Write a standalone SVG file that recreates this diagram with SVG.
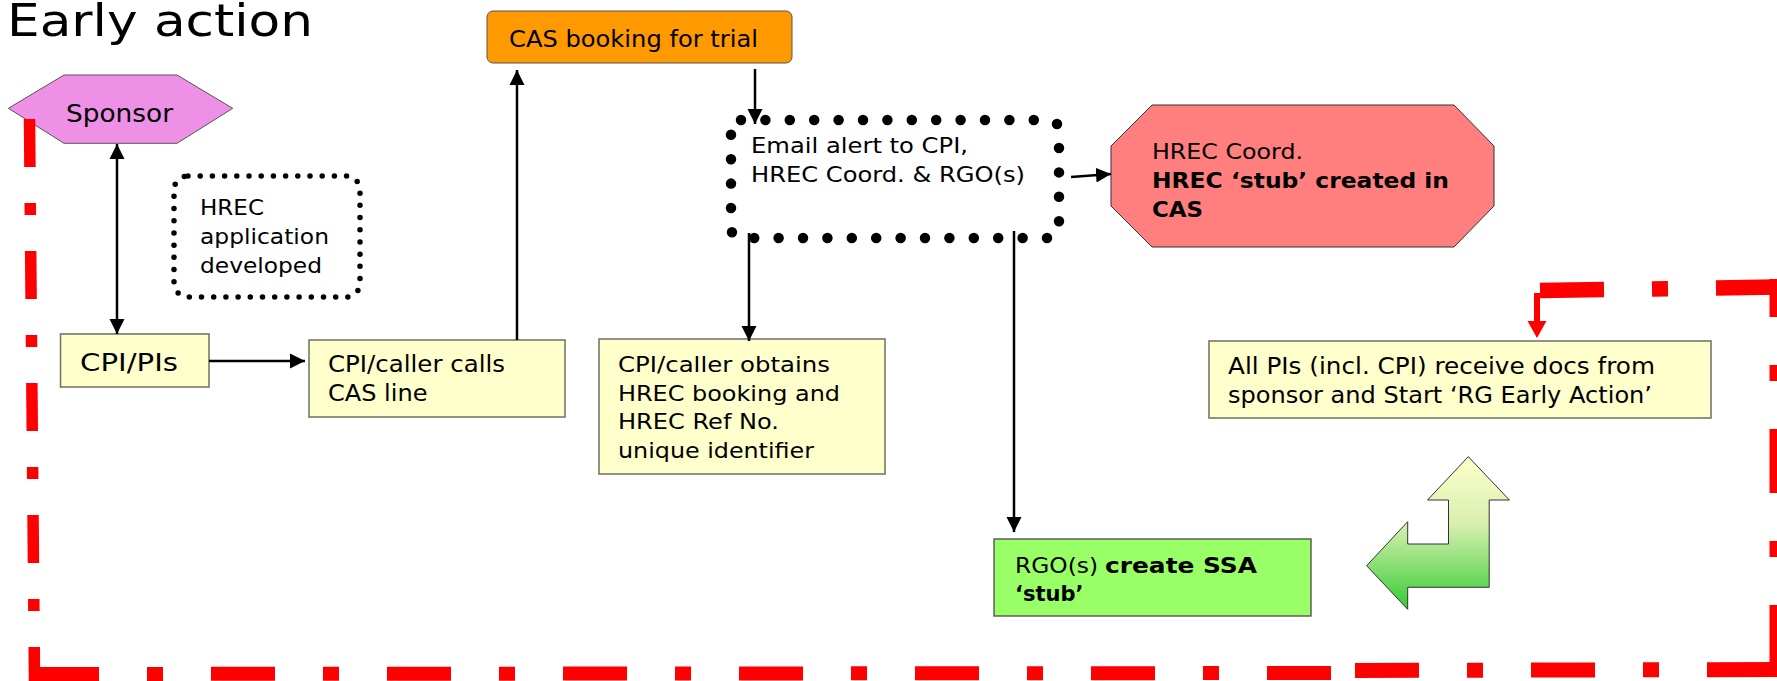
<svg xmlns="http://www.w3.org/2000/svg" width="1777" height="681" viewBox="0 0 1777 681">
<defs>
<style>
text { font-family: "DejaVu Sans", "Liberation Sans", sans-serif; fill: #000; }
.t { font-size: 21.5px; }
.m { font-size: 23px; }
.s { font-size: 21px; }
.b { font-weight: bold; }
.box { fill: #FFFFCC; stroke: #77776a; stroke-width: 1.6; }
.arr { fill: none; stroke: #000; stroke-width: 2.5; marker-end: url(#ah); }
.red { fill: none; stroke: #FF0000; }
.dot { fill: none; stroke: #000; stroke-linecap: round; }
</style>
<marker id="ah" markerUnits="userSpaceOnUse" viewBox="0 0 16 16" markerWidth="16" markerHeight="16" refX="15" refY="8" orient="auto-start-reverse">
<path d="M0,0.5 L15,8 L0,15.5 z" fill="#000"/>
</marker>
<marker id="rh" markerUnits="userSpaceOnUse" viewBox="0 0 18 20" markerWidth="18" markerHeight="20" refX="0" refY="10" orient="auto">
<path d="M0,0.5 L17,10 L0,19.5 z" fill="#FF0000"/>
</marker>
<linearGradient id="gArrow" x1="0" y1="0" x2="0" y2="1">
<stop offset="0" stop-color="#FFFFCC"/>
<stop offset="0.45" stop-color="#D6EFAE"/>
<stop offset="1" stop-color="#33CC33"/>
</linearGradient>
</defs>

<g id="title">
<text x="7" y="36" font-size="45" textLength="306" lengthAdjust="spacingAndGlyphs">Early action</text>
</g>

<g id="sponsor">
<polygon points="8.4,108.3 64,75 177,75 232.7,108.3 177,143.3 64,143.3" fill="#EE90E6" stroke="#555" stroke-width="1"/>
<text x="66" y="122" font-size="25" textLength="107" lengthAdjust="spacingAndGlyphs">Sponsor</text>
</g>

<g id="hrec-application">
<rect x="174" y="176" width="186" height="121" rx="14" class="dot" stroke-width="5.5" stroke-dasharray="0 12.2"/>
<text class="t" x="200" y="215" textLength="64" lengthAdjust="spacingAndGlyphs">HREC</text>
<text class="t" x="200" y="244" textLength="129" lengthAdjust="spacingAndGlyphs">application</text>
<text class="t" x="200" y="273" textLength="122" lengthAdjust="spacingAndGlyphs">developed</text>
</g>

<g id="cas-booking">
<rect x="487" y="11" width="305" height="52" rx="6" fill="#FF9900" stroke="#555" stroke-width="1"/>
<text class="m" x="509" y="47" textLength="249" lengthAdjust="spacingAndGlyphs">CAS booking for trial</text>
</g>

<g id="cpi-pis">
<rect class="box" x="60.5" y="334" width="148.5" height="53"/>
<text x="80" y="371" font-size="25" textLength="98" lengthAdjust="spacingAndGlyphs">CPI/PIs</text>
</g>

<g id="cpi-calls">
<rect class="box" x="309" y="340" width="256" height="77"/>
<text class="m" x="328" y="372" textLength="177" lengthAdjust="spacingAndGlyphs">CPI/caller calls</text>
<text class="m" x="328" y="401" textLength="99.5" lengthAdjust="spacingAndGlyphs">CAS line</text>
</g>

<g id="email-alert">
<rect x="731" y="120" width="328" height="118" rx="10" class="dot" stroke-width="10.5" stroke-dasharray="0 24.4"/>
<text x="751" y="153" font-size="22" textLength="217" lengthAdjust="spacingAndGlyphs">Email alert to CPI,</text>
<text x="751" y="182" font-size="22" textLength="274" lengthAdjust="spacingAndGlyphs">HREC Coord. &amp; RGO(s)</text>
</g>

<g id="hrec-stub">
<polygon points="1152,105 1454,105 1494,146 1494,206 1454,247 1152,247 1111,206 1111,146" fill="#FF7F7F" stroke="#333" stroke-width="1"/>
<text class="s" x="1152" y="159" textLength="151" lengthAdjust="spacingAndGlyphs">HREC Coord.</text>
<text class="s b" x="1152" y="188" textLength="297" lengthAdjust="spacingAndGlyphs">HREC ‘stub’ created in</text>
<text class="s b" x="1152" y="217" textLength="51" lengthAdjust="spacingAndGlyphs">CAS</text>
</g>

<g id="cpi-obtains">
<rect class="box" x="599" y="339" width="286" height="135"/>
<text class="t" x="618" y="372" textLength="212" lengthAdjust="spacingAndGlyphs">CPI/caller obtains</text>
<text class="t" x="618" y="401" textLength="222" lengthAdjust="spacingAndGlyphs">HREC booking and</text>
<text class="t" x="618" y="429" textLength="161" lengthAdjust="spacingAndGlyphs">HREC Ref No.</text>
<text class="t" x="618" y="458" textLength="196" lengthAdjust="spacingAndGlyphs">unique identifier</text>
</g>

<g id="rgo-stub">
<rect x="994" y="539" width="317" height="77" fill="#99FF66" stroke="#555" stroke-width="1.4"/>
<text class="s" x="1015" y="573" textLength="83" lengthAdjust="spacingAndGlyphs">RGO(s)</text>
<text class="s b" x="1105" y="573" textLength="152" lengthAdjust="spacingAndGlyphs">create SSA</text>
<text class="s b" x="1015" y="601">‘stub’</text>
</g>

<g id="all-pis">
<rect class="box" x="1209" y="341" width="502" height="77"/>
<text class="m" x="1228" y="374" textLength="427" lengthAdjust="spacingAndGlyphs">All PIs (incl. CPI) receive docs from</text>
<text class="m" x="1228" y="403" textLength="424" lengthAdjust="spacingAndGlyphs">sponsor and Start ‘RG Early Action’</text>
</g>

<g id="bent-arrow">
<polygon points="1468.3,456.7 1509.4,500 1489.2,500 1489.2,587.3 1407.7,587.3 1407.7,609.3 1366.6,565.7 1407.7,521.7 1407.7,544 1448.5,544 1448.5,500 1427.5,500" fill="url(#gArrow)" stroke="#333" stroke-width="1"/>
</g>

<g id="connectors">
<path class="arr" d="M117,144 L117,334" marker-start="url(#ah)"/>
<path class="arr" d="M209,361 L305,361" stroke-width="4.2"/>
<path class="arr" d="M517,340 L517,70"/>
<path class="arr" d="M755,69 L755,124"/>
<path class="arr" d="M1071,177 L1111,174" stroke-width="3"/>
<path class="arr" d="M749,233 L749,341"/>
<path class="arr" d="M1014,231 L1014,532"/>
<path class="red" d="M29.5,119 L34.5,681" stroke-width="11.5" stroke-dasharray="48 36 12 36"/>
<path class="red" d="M35,674 L1331,673" stroke-width="14" stroke-dasharray="64 48 16 48"/>
<path class="red" d="M1540,290.5 L1782,287" stroke-width="15.5" stroke-dasharray="64 48 16 48"/>
<path class="red" d="M1776,279 L1776,669" stroke-width="13" stroke-dasharray="64 48 16 48" stroke-dashoffset="26"/>
<path class="red" d="M1783,669.5 L1355,670.5" stroke-width="15" stroke-dasharray="76 48 16 48 64 48 16 48 64"/>
<path class="red" d="M1537,293 L1537,321" stroke-width="6" marker-end="url(#rh)"/>
</g>
</svg>
